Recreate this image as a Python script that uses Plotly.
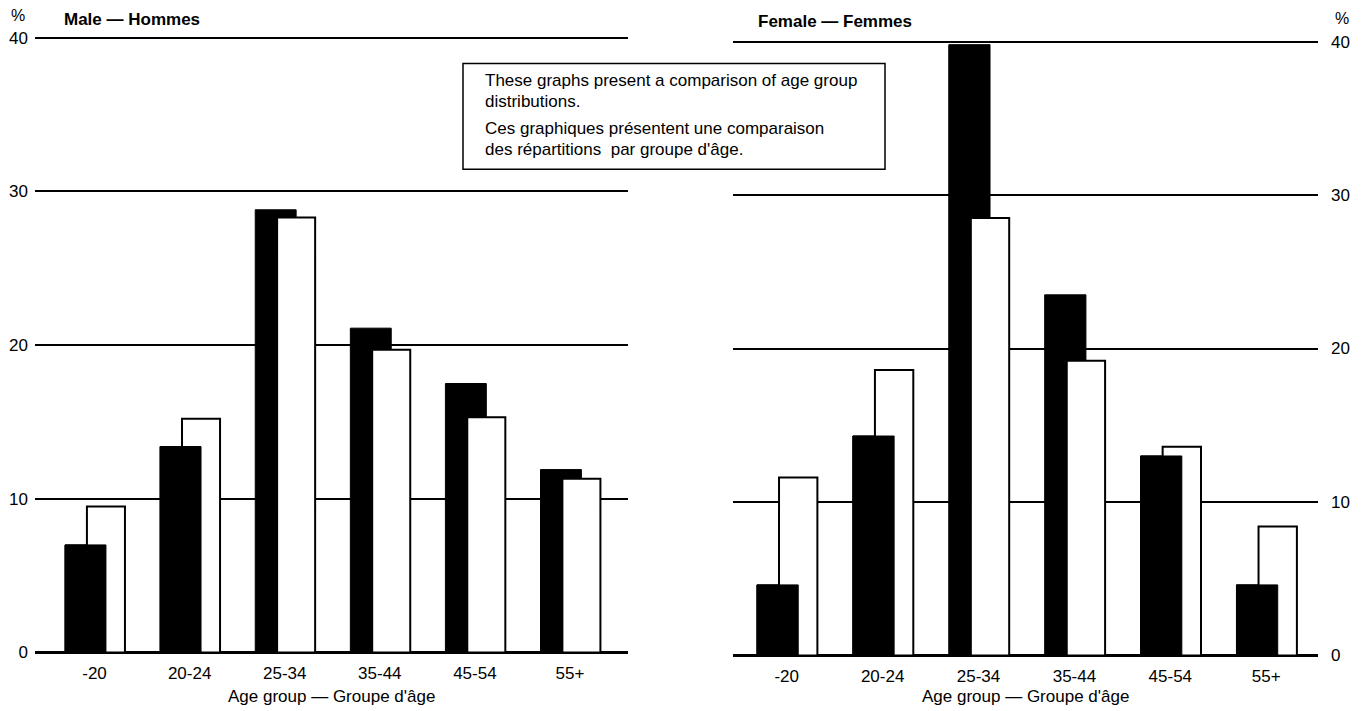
import plotly.graph_objects as go

# ---------------- data ----------------
categories = ["-20", "20-24", "25-34", "35-44", "45-54", "55+"]
male_black = [7.0, 13.4, 28.8, 21.1, 17.5, 11.9]
male_white = [9.5, 15.2, 28.3, 19.7, 15.3, 11.3]
female_black = [4.6, 14.3, 39.8, 23.5, 13.0, 4.6]
female_white = [11.6, 18.6, 28.5, 19.2, 13.6, 8.4]
y_ticks = [0, 10, 20, 30, 40]

W, H = 1364, 711
FONT = "Liberation Sans, Arial, Helvetica, sans-serif"


def px(x):
    return x / W


def py(y):
    return 1 - y / H


fig = go.Figure()


def add_panel(black, white, xa, ya):
    front = [b if b <= w else None for b, w in zip(black, white)]
    common = dict(xaxis=xa, yaxis=ya, hoverinfo="skip", showlegend=False)
    fig.add_trace(go.Bar(x=categories, y=black, width=0.43, offset=-0.31,
                         marker=dict(color="#000000", line=dict(color="#000000", width=1)),
                         **common))
    fig.add_trace(go.Bar(x=categories, y=white, width=0.40, offset=-0.08,
                         marker=dict(color="#ffffff", line=dict(color="#000000", width=2)),
                         **common))
    fig.add_trace(go.Bar(x=categories, y=front, width=0.43, offset=-0.31,
                         marker=dict(color="#000000", line=dict(color="#000000", width=1)),
                         **common))


add_panel(male_black, male_white, "x", "y")
add_panel(female_black, female_white, "x2", "y2")

# panel geometry (pixels)
L_x0, L_x1 = 35, 628
R_x0, R_x1 = 733, 1318
L_zero, L_unit = 658, 15.525
R_zero, R_unit = 661, 15.5
ymin, ymax = -0.25, 40.5

tickfont = dict(family=FONT, size=17, color="#000")

xcommon = dict(type="category", showgrid=False, zeroline=False, showline=False,
               ticks="", tickfont=tickfont, fixedrange=True, ticklabelstandoff=5)
ycommon = dict(range=[ymin, ymax], tickvals=y_ticks, showgrid=True, gridcolor="#000",
               gridwidth=2, zeroline=True, zerolinecolor="#000", zerolinewidth=3,
               showline=False, ticks="", tickfont=tickfont, fixedrange=True)

fig.update_layout(
    width=W, height=H,
    margin=dict(l=0, r=0, t=0, b=0),
    paper_bgcolor="white", plot_bgcolor="white",
    barmode="overlay",
    font=dict(family=FONT, color="#000"),
    xaxis=dict(domain=[px(L_x0), px(L_x1)], range=[-0.626, 5.61], anchor="y", **xcommon),
    xaxis2=dict(domain=[px(R_x0), px(R_x1)], range=[-0.56, 5.54], anchor="y2", **xcommon),
    yaxis=dict(domain=[py(L_zero - ymin * L_unit), py(L_zero - ymax * L_unit)],
               anchor="x", side="left", ticklabelstandoff=6, **ycommon),
    yaxis2=dict(domain=[py(R_zero - ymin * R_unit), py(R_zero - ymax * R_unit)],
                anchor="x2", side="right", ticklabelstandoff=12, **ycommon),
)

ann = []


def text(x, y, s, size=17, bold=False, xanchor="left"):
    ann.append(dict(x=px(x), y=py(y), xref="paper", yref="paper", text=("<b>%s</b>" % s) if bold else s,
                    showarrow=False, xanchor=xanchor, yanchor="middle",
                    font=dict(family=FONT, size=size, color="#000")))


text(18, 15, "%", size=16, xanchor="center")
text(1342, 18, "%", size=16, xanchor="center")
text(62, 19, "Male — Hommes", size=17, bold=True)
text(756, 21, "Female — Femmes", size=17, bold=True)
text(331, 702, "Age group — Groupe d'âge", size=17, xanchor="center")
text(1025, 702, "Age group — Groupe d'âge", size=17, xanchor="center")

# explanatory box
fig.add_shape(type="rect", xref="paper", yref="paper",
              x0=px(463), x1=px(885), y0=py(170), y1=py(63),
              line=dict(color="#000", width=1.5), fillcolor="white", layer="above")
text(483, 80, "These graphs present a comparison of age group", size=17)
text(483, 101, "distributions.", size=17)
text(483, 129, "Ces graphiques présentent une comparaison", size=17)
text(483, 150, "des répartitions  par groupe d'âge.", size=17)

fig.update_layout(annotations=ann)

fig.write_html("out.html", config={"displayModeBar": False},
               post_script="document.body.style.margin='0';document.body.style.padding='0';")
